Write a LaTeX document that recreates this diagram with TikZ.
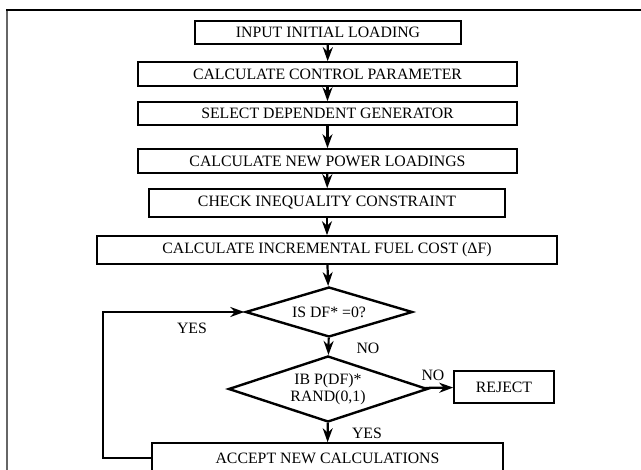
\documentclass[tikz,border=0pt]{standalone}
\usepackage{fontspec}
\setmainfont{Liberation Serif}
\usetikzlibrary{shapes.geometric,arrows.meta}

\tikzset{
    procbox/.style={draw, line width=1.6pt, inner sep=0pt},
    testbox/.style={draw, diamond, line width=2.4pt, aspect=3, inner sep=0pt, align=center},
    flow/.style={line width=2.2pt, -{Stealth[length=14pt,width=10pt]}},
    lbl/.style={inner sep=0pt}
}

\begin{document}
\begin{tikzpicture}[x=1pt, y=-1pt, font=\fontsize{15.8}{17}\selectfont]
    \useasboundingbox (0,0) rectangle (641,470);
    % frame of the figure
    \draw[line width=2pt, black!60] (7,10) -- (7,470);
    \draw[line width=1.5pt] (6,10) -- (641,10);

    % process boxes
    \node[procbox, minimum width=266pt, minimum height=23pt] (input) at (328,32.5) {INPUT INITIAL LOADING};
    \node[procbox, minimum width=379pt, minimum height=24pt] (ctrl) at (327.5,74) {CALCULATE CONTROL PARAMETER};
    \node[procbox, minimum width=379pt, minimum height=23pt] (select) at (327.5,113.5) {SELECT DEPENDENT GENERATOR};
    \node[procbox, minimum width=379pt, minimum height=24pt] (newpow) at (327.5,161) {CALCULATE NEW POWER LOADINGS};
    \node[procbox, minimum width=356pt, minimum height=28pt] (check) at (327,203) {CHECK INEQUALITY CONSTRAINT};
    \node[procbox, minimum width=460pt, minimum height=28pt] (fuel) at (327,250) {CALCULATE INCREMENTAL FUEL COST (ΔF)};

    % decisions
    \node[testbox, minimum width=167pt, minimum height=50pt] (iszero) at (329,312) {IS DF* =0?};
    \node[testbox, minimum width=199pt, minimum height=66pt] (prob) at (328,389) {IB P(DF)*\\RAND(0,1)};
    \node[procbox, minimum width=100pt, minimum height=32pt] (reject) at (504,387) {REJECT};
    \node[procbox, minimum width=351pt, minimum height=30pt] (accept) at (327.5,458) {ACCEPT NEW CALCULATIONS};

    % connectors
    \draw[flow] (input) -- (ctrl);
    \draw[flow] (ctrl) -- (select);
    \draw[flow] (select) -- (newpow);
    \draw[flow] (newpow) -- (check);
    \draw[flow] (check) -- (fuel);
    \draw[flow] (fuel) -- (iszero);
    \draw[flow] (iszero) -- (prob);
    \draw[flow] (prob) -- (reject);
    \draw[flow] (prob) -- (accept);
    \coordinate (loopx) at (103,0);
    \draw[flow] (accept.west) -- (accept.west -| loopx) |- (iszero.west);

    % branch labels
    \node[lbl] (yesloop) at (192,328) {YES};
    \node[lbl] (nozero) at (368,348) {NO};
    \node[lbl] (noprob) at (433,375) {NO};
    \node[lbl] (yesprob) at (367,433) {YES};
\end{tikzpicture}
\end{document}
